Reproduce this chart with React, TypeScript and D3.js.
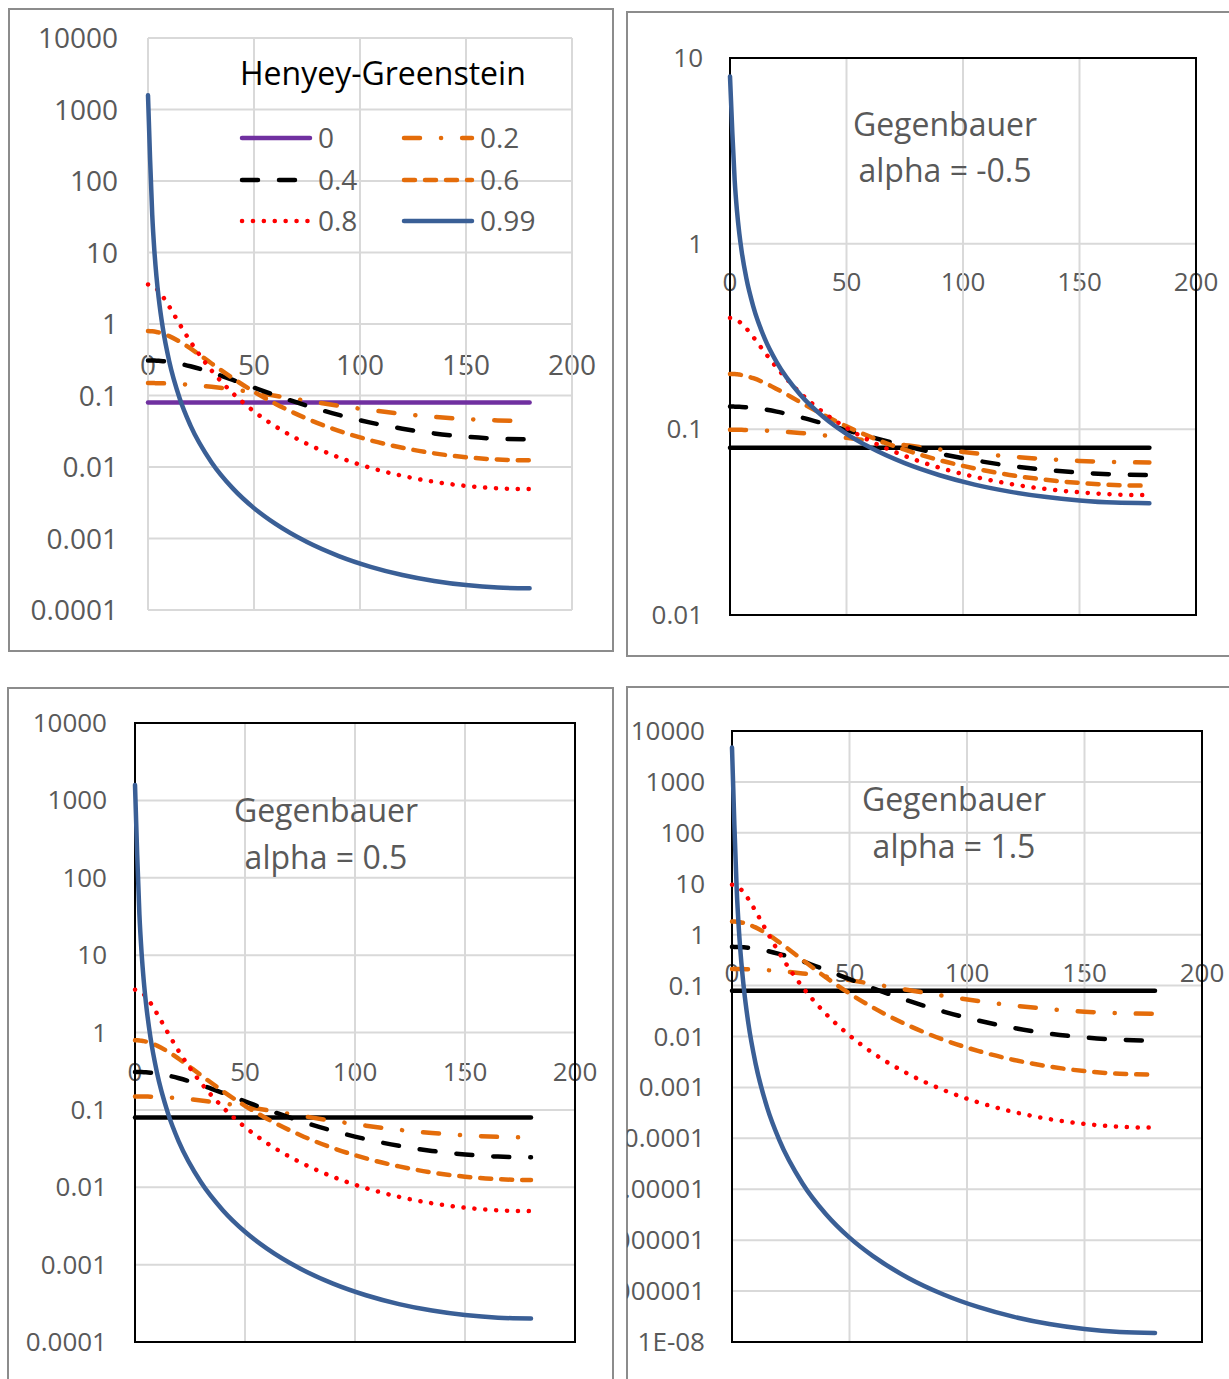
import React, { useEffect, useRef } from 'react'
import * as d3 from 'd3'

// scattering angle (degrees)
const angles = [0, 1, 2, 3, 4, 5, 7, 10, 15, 20, 30, 40, 50, 60, 75, 90, 105, 120, 135, 150, 165, 180]

const gLabels = ['0', '0.2', '0.4', '0.6', '0.8', '0.99']

// Henyey-Greenstein (Gegenbauer alpha = 0.5 gives the same curves)
const hgG0 = [0.0796, 0.0796, 0.0796, 0.0796, 0.0796, 0.0796, 0.0796, 0.0796, 0.0796, 0.0796, 0.0796, 0.0796, 0.0796, 0.0796, 0.0796, 0.0796, 0.0796, 0.0796, 0.0796, 0.0796, 0.0796, 0.0796]
const hgG02 = [0.1492, 0.1492, 0.1491, 0.149, 0.1489, 0.1487, 0.1482, 0.1471, 0.1446, 0.1412, 0.1323, 0.1216, 0.1103, 0.0992, 0.0843, 0.072, 0.0625, 0.0553, 0.0502, 0.0468, 0.0448, 0.0442]
const hgG04 = [0.3095, 0.3093, 0.3088, 0.3081, 0.307, 0.3056, 0.3019, 0.2944, 0.2774, 0.2563, 0.2093, 0.1652, 0.1288, 0.1009, 0.0719, 0.0535, 0.0418, 0.0343, 0.0295, 0.0265, 0.0249, 0.0244]
const hgG06 = [0.7958, 0.7944, 0.7904, 0.7837, 0.7745, 0.7629, 0.7334, 0.6769, 0.5656, 0.4547, 0.2803, 0.1741, 0.1128, 0.0769, 0.0474, 0.0321, 0.0236, 0.0186, 0.0155, 0.0137, 0.0127, 0.0124]
const hgG08 = [3.581, 3.549, 3.454, 3.306, 3.115, 2.895, 2.421, 1.757, 0.9859, 0.5681, 0.2233, 0.1074, 0.0599, 0.0372, 0.0211, 0.01364, 0.00973, 0.00752, 0.00621, 0.00544, 0.00504, 0.00491]
const hgG099 = [1584, 196.8, 33.55, 10.61, 4.584, 2.374, 0.8743, 0.302, 0.0902, 0.0383, 0.01158, 0.00502, 0.00266, 0.00161, 0.000891, 0.000568, 0.000402, 0.000309, 0.000255, 0.000223, 0.000206, 0.000201]

// Gegenbauer alpha = -0.5
const gbmG0 = [0.0796, 0.0796, 0.0796, 0.0796, 0.0796, 0.0796, 0.0796, 0.0796, 0.0796, 0.0796, 0.0796, 0.0796, 0.0796, 0.0796, 0.0796, 0.0796, 0.0796, 0.0796, 0.0796, 0.0796, 0.0796, 0.0796]
const gbmG02 = [0.09947, 0.09947, 0.09945, 0.09943, 0.0994, 0.09935, 0.09924, 0.099, 0.09843, 0.09765, 0.09555, 0.09291, 0.08994, 0.08683, 0.08223, 0.07803, 0.07442, 0.07146, 0.06919, 0.06758, 0.06663, 0.06631]
const gbmG04 = [0.1326, 0.1326, 0.1325, 0.1324, 0.1323, 0.1321, 0.1315, 0.1305, 0.1279, 0.1246, 0.1164, 0.1076, 0.099, 0.0913, 0.0815, 0.0739, 0.0681, 0.0637, 0.0606, 0.0585, 0.0572, 0.0568]
const gbmG06 = [0.1989, 0.1988, 0.1985, 0.1979, 0.1972, 0.1962, 0.1936, 0.1885, 0.1776, 0.1651, 0.1405, 0.1199, 0.1037, 0.0913, 0.0777, 0.0682, 0.0616, 0.0568, 0.0536, 0.0514, 0.0501, 0.0497]
const gbmG08 = [0.3979, 0.3967, 0.3931, 0.3874, 0.3798, 0.3707, 0.3492, 0.3138, 0.2588, 0.2154, 0.1578, 0.1236, 0.1018, 0.0868, 0.0719, 0.0621, 0.0555, 0.0509, 0.0478, 0.0458, 0.0446, 0.0442]
const gbmG099 = [7.958, 3.971, 2.202, 1.5, 1.134, 0.9108, 0.6528, 0.4581, 0.3061, 0.2302, 0.1545, 0.1169, 0.0946, 0.08, 0.0657, 0.0566, 0.0504, 0.0462, 0.0433, 0.0414, 0.0403, 0.04]

// Gegenbauer alpha = 1.5
const gbpG0 = [0.0796, 0.0796, 0.0796, 0.0796, 0.0796, 0.0796, 0.0796, 0.0796, 0.0796, 0.0796, 0.0796, 0.0796, 0.0796, 0.0796, 0.0796, 0.0796, 0.0796, 0.0796, 0.0796, 0.0796, 0.0796, 0.0796]
const gbpG02 = [0.212, 0.212, 0.2118, 0.2116, 0.2112, 0.2108, 0.2096, 0.2071, 0.2012, 0.1933, 0.1734, 0.1507, 0.1281, 0.1074, 0.0819, 0.063, 0.0497, 0.0406, 0.0345, 0.0307, 0.0286, 0.0279]
const gbpG04 = [0.5759, 0.5754, 0.5739, 0.5715, 0.5681, 0.5639, 0.5527, 0.53, 0.4798, 0.4205, 0.3002, 0.2022, 0.1336, 0.0889, 0.0505, 0.0309, 0.0205, 0.0147, 0.0114, 0.00958, 0.00862, 0.00833]
const gbpG06 = [1.819, 1.814, 1.798, 1.773, 1.738, 1.695, 1.588, 1.389, 1.03, 0.7156, 0.3196, 0.1445, 0.07, 0.037, 0.0165, 0.00864, 0.00517, 0.00346, 0.00257, 0.00209, 0.00185, 0.00178]
const gbpG08 = [9.563, 9.418, 9.004, 8.368, 7.58, 6.711, 4.98, 2.918, 1.114, 0.4445, 0.0938, 0.0277, 0.0105, 0.00473, 0.00184, 0.000889, 0.000506, 0.000329, 0.000239, 0.000192, 0.000169, 0.000162]
const gbpG099 = [4727, 146.3, 7.666, 1.126, 0.278, 0.0928, 0.01756, 0.00299, 0.000398, 9.57e-5, 1.3e-5, 3.23e-6, 1.12e-6, 4.85e-7, 1.81e-7, 8.57e-8, 4.82e-8, 3.11e-8, 2.25e-8, 1.8e-8, 1.58e-8, 1.51e-8]

const xTicks = [0, 50, 100, 150, 200]
const yTicksWide = ['10000', '1000', '100', '10', '1', '0.1', '0.01', '0.001', '0.0001']
const yTicksShort = ['10', '1', '0.1', '0.01']
const yTicksTall = ['10000', '1000', '100', '10', '1', '0.1', '0.01', '0.001', '0.0001', '0.00001', '0.000001', '0.0000001', '1E-08']

const ORANGE = '#E46C0A'
const lineStyles = [
    { color: '#000000', dash: null },
    { color: ORANGE, dash: '16 21 0.1 21' },
    { color: '#000000', dash: '16 21' },
    { color: ORANGE, dash: '11 10' },
    { color: '#FF0000', dash: '0.1 10.8' },
    { color: '#3A5F96', dash: null },
]

const FONT = '"Open Sans", "Noto Sans", sans-serif'
const GREY = '#595959'

const panels = [
    { id: 'hg', series: [hgG0, hgG02, hgG04, hgG06, hgG08, hgG099], zeroColor: '#7030A0', px: [148, 572], py: [38, 610],
      yTicks: yTicksWide, frame: false, box: [9, 9, 604, 642], labelRight: 118, xLabelY: 375, tickSize: 28,
      title: ['Henyey-Greenstein'], titleX: 240, titleY: [85], anchor: 'start', titleColor: '#000', legend: true },
    { id: 'gbm', series: [gbmG0, gbmG02, gbmG04, gbmG06, gbmG08, gbmG099], zeroColor: '#000', px: [730, 1196], py: [58, 615],
      yTicks: yTicksShort, frame: true, box: [627, 12, 640, 644], labelRight: 703, xLabelY: 291, tickSize: 26,
      title: ['Gegenbauer', 'alpha = -0.5'], titleX: 945, titleY: [136, 182], anchor: 'middle', titleColor: GREY, legend: false },
    { id: 'gbh', series: [hgG0, hgG02, hgG04, hgG06, hgG08, hgG099], zeroColor: '#000', px: [135, 575], py: [723, 1342],
      yTicks: yTicksWide, frame: true, box: [8, 688, 605, 720], labelRight: 107, xLabelY: 1081, tickSize: 26,
      title: ['Gegenbauer', 'alpha = 0.5'], titleX: 326, titleY: [822, 869], anchor: 'middle', titleColor: GREY, legend: false },
    { id: 'gbp', series: [gbpG0, gbpG02, gbpG04, gbpG06, gbpG08, gbpG099], zeroColor: '#000', px: [732, 1202], py: [731, 1342],
      yTicks: yTicksTall, frame: true, box: [627, 687, 640, 720], labelRight: 705, xLabelY: 982, tickSize: 26,
      title: ['Gegenbauer', 'alpha = 1.5'], titleX: 954, titleY: [811, 858], anchor: 'middle', titleColor: GREY, legend: false },
]

function PhaseCharts() {
    const ref = useRef<SVGSVGElement>(null)

    useEffect(() => {
        const svg = d3.select(ref.current)
        svg.selectAll('*').remove()
        const defs = svg.append('defs')

        panels.forEach(p => {
            const tickVals = p.yTicks.map(Number)
            const x = d3.scaleLinear().domain([0, 200]).range(p.px)
            const y = d3.scaleLog().domain([d3.min(tickVals), d3.max(tickVals)]).range([p.py[1], p.py[0]])
            const half = Math.round(p.tickSize * 0.36)

            const [bx, by, bw, bh] = p.box
            defs.append('clipPath').attr('id', 'clip-' + p.id)
                .append('rect').attr('x', bx).attr('y', by).attr('width', bw).attr('height', bh)

            svg.append('rect')
                .attr('x', bx).attr('y', by).attr('width', bw).attr('height', bh)
                .attr('fill', '#fff').attr('stroke', '#8c8c8c').attr('stroke-width', 2)

            const g = svg.append('g').attr('clip-path', `url(#clip-${p.id})`)

            // tick labels
            g.selectAll('text.ylab').data(p.yTicks).enter().append('text')
                .attr('x', p.labelRight)
                .attr('y', d => y(Number(d)) + half)
                .attr('text-anchor', 'end')
                .attr('font-family', FONT).attr('font-size', p.tickSize).attr('fill', GREY)
                .text(d => d)
            g.selectAll('text.xlab').data(xTicks).enter().append('text')
                .attr('x', d => x(d))
                .attr('y', p.xLabelY)
                .attr('text-anchor', 'middle')
                .attr('font-family', FONT).attr('font-size', p.tickSize).attr('fill', GREY)
                .text(d => d)

            // gridlines
            g.selectAll('line.hgrid').data(tickVals).enter().append('line')
                .attr('x1', p.px[0]).attr('x2', p.px[1])
                .attr('y1', d => y(d)).attr('y2', d => y(d))
                .attr('stroke', '#d9d9d9').attr('stroke-width', 2)
            g.selectAll('line.vgrid').data(xTicks).enter().append('line')
                .attr('x1', d => x(d)).attr('x2', d => x(d))
                .attr('y1', p.py[0]).attr('y2', p.py[1])
                .attr('stroke', '#d9d9d9').attr('stroke-width', 2)

            if (p.frame) {
                g.append('rect')
                    .attr('x', p.px[0]).attr('y', p.py[0])
                    .attr('width', p.px[1] - p.px[0]).attr('height', p.py[1] - p.py[0])
                    .attr('fill', 'none').attr('stroke', '#000').attr('stroke-width', 2)
            }

            const line = d3.line<number>()
                .x((d, i) => x(angles[i]))
                .y(d => y(d))
                .curve(d3.curveMonotoneX)

            p.series.forEach((vals, i) => {
                const st = lineStyles[i]
                g.append('path')
                    .attr('d', line(vals))
                    .attr('fill', 'none')
                    .attr('stroke', i === 0 ? p.zeroColor : st.color)
                    .attr('stroke-width', 4.5)
                    .attr('stroke-linecap', 'round')
                    .attr('stroke-linejoin', 'round')
                    .attr('stroke-dasharray', st.dash)
            })

            p.title.forEach((t, i) => {
                g.append('text')
                    .attr('x', p.titleX).attr('y', p.titleY[i])
                    .attr('text-anchor', p.anchor)
                    .attr('font-family', FONT).attr('font-size', 32).attr('fill', p.titleColor)
                    .text(t)
            })

            if (p.legend) {
                const cols = [242, 404]
                const rows = [138, 180, 221]
                gLabels.forEach((lab, i) => {
                    const lx = cols[i % 2]
                    const ly = rows[Math.floor(i / 2)]
                    const st = lineStyles[i]
                    g.append('line')
                        .attr('x1', lx).attr('x2', lx + 68).attr('y1', ly).attr('y2', ly)
                        .attr('stroke', i === 0 ? p.zeroColor : st.color)
                        .attr('stroke-width', 4.5)
                        .attr('stroke-linecap', 'round')
                        .attr('stroke-dasharray', st.dash)
                    g.append('text')
                        .attr('x', lx + 76).attr('y', ly + 10)
                        .attr('font-family', FONT).attr('font-size', 28).attr('fill', GREY)
                        .text(lab)
                })
            }
        })
    }, [])

    return <svg ref={ref} width={1229} height={1379} style={{ display: 'block' }} />
}

export default function App() {
    return (
        <div style={{ position: 'absolute', left: 0, top: 0, background: '#fff' }}>
            <PhaseCharts />
        </div>
    )
}
